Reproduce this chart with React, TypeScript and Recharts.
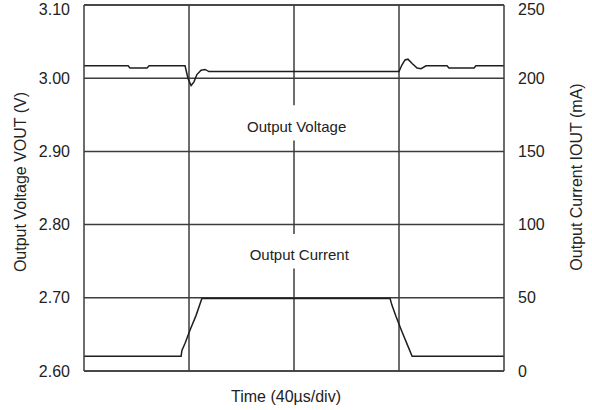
import React from "react";
import {
  LineChart,
  Line,
  XAxis,
  YAxis,
  CartesianGrid,
  ReferenceLine,
  ReferenceDot,
} from "recharts";

// Time in µs (40 µs/div)
const voltageTime = [0, 16.8, 17.5, 24, 24.8, 38.5, 39.6, 40.8, 41.9, 43.0, 44.6, 46.1, 47.6, 120, 121.1, 122.3, 123.4, 125, 126.9, 128.4, 130.3, 138.3, 139, 148.6, 149.3, 160];
const voltageValues = [3.017, 3.017, 3.014, 3.014, 3.017, 3.017, 3.0, 2.99, 2.995, 3.005, 3.011, 3.012, 3.009, 3.009, 3.018, 3.025, 3.026, 3.02, 3.014, 3.013, 3.017, 3.017, 3.014, 3.014, 3.017, 3.017];

const currentTime = [0, 37.0, 37.3, 38.5, 40.4, 42.7, 44.9, 116.6, 117.3, 118.9, 121.1, 123.4, 125, 160];
const currentValues = [10, 10, 14, 19, 28, 38, 49.5, 49.5, 45, 37, 27, 17, 10, 10];

const timeTicks = [0, 40, 80, 120, 160];
const voltageTicks = [2.6, 2.7, 2.8, 2.9, 3.0, 3.1];
const currentTicks = [0, 50, 100, 150, 200, 250];

const voltageData = voltageTime.map((t, i) => ({ t, v: voltageValues[i] }));
const currentData = currentTime.map((t, i) => ({ t, c: currentValues[i] }));

const FONT = "'Liberation Sans', Arial, sans-serif";
const GRID = "#3c3c3c";
const INK = "#1e1e1e";
const TXT = "#222";

export default function App() {
  return (
    <div style={{ position: "absolute", left: 0, top: 0, background: "#fff" }}>
      <LineChart
        width={592}
        height={410}
        margin={{ top: 5, right: 0, bottom: 0, left: 0 }}
        style={{ fontFamily: FONT }}
      >
        <CartesianGrid
          yAxisId="v"
          stroke={GRID}
          strokeWidth={1.5}
          vertical={false}
        />
        <XAxis
          type="number"
          dataKey="t"
          domain={[0, 160]}
          ticks={timeTicks}
          tick={false}
          tickLine={false}
          axisLine={{ stroke: GRID, strokeWidth: 1.5 }}
          height={39}
          allowDataOverflow
          label={{ value: "Time (40µs/div)", position: "insideBottom", offset: 8, fill: TXT, fontSize: 16, fontFamily: FONT, dx: -8 }}
        />
        <YAxis
          yAxisId="v"
          type="number"
          domain={[2.6, 3.1]}
          ticks={voltageTicks}
          tickFormatter={(v: number) => v.toFixed(2)}
          width={84}
          tickSize={0}
          tickMargin={14}
          axisLine={{ stroke: GRID, strokeWidth: 1.5 }}
          tick={{ fill: TXT, fontSize: 16, fontFamily: FONT }}
          allowDataOverflow
          label={{ value: "Output Voltage VOUT (V)", angle: -90, position: "insideLeft", offset: 20, fill: TXT, fontSize: 16, fontFamily: FONT, style: { textAnchor: "middle" }, dy: -6 }}
        />
        <YAxis
          yAxisId="i"
          orientation="right"
          type="number"
          domain={[0, 250]}
          ticks={currentTicks}
          width={88}
          tickSize={0}
          tickMargin={14}
          axisLine={{ stroke: GRID, strokeWidth: 1.5 }}
          tick={{ fill: TXT, fontSize: 16, fontFamily: FONT, textAnchor: "start" }}
          allowDataOverflow
          label={{ value: "Output Current IOUT (mA)", angle: -90, position: "insideRight", offset: 16, fill: TXT, fontSize: 16, fontFamily: FONT, style: { textAnchor: "middle" }, dy: -11 }}
        />
        <ReferenceLine yAxisId="v" y={3.1} stroke={GRID} strokeWidth={1.5} />
        <ReferenceLine yAxisId="v" x={40} stroke={GRID} strokeWidth={1.5} />
        <ReferenceLine yAxisId="v" x={120} stroke={GRID} strokeWidth={1.5} />
        <ReferenceLine yAxisId="v" segment={[{ x: 80, y: 3.1 }, { x: 80, y: 2.963 }]} stroke={GRID} strokeWidth={1.5} />
        <ReferenceLine yAxisId="v" segment={[{ x: 80, y: 2.915 }, { x: 80, y: 2.787 }]} stroke={GRID} strokeWidth={1.5} />
        <ReferenceLine yAxisId="v" segment={[{ x: 80, y: 2.74 }, { x: 80, y: 2.6 }]} stroke={GRID} strokeWidth={1.5} />
        <ReferenceDot
          yAxisId="v"
          x={81}
          y={2.9333}
          r={0}
          fill="none"
          stroke="none"
          label={{ value: "Output Voltage", position: "center", fill: TXT, fontSize: 15, fontFamily: FONT }}
        />
        <ReferenceDot
          yAxisId="v"
          x={82}
          y={2.7585}
          r={0}
          fill="none"
          stroke="none"
          label={{ value: "Output Current", position: "center", fill: TXT, fontSize: 15, fontFamily: FONT }}
        />
        <Line
          yAxisId="v"
          data={voltageData}
          dataKey="v"
          type="linear"
          stroke={INK}
          strokeWidth={1.5}
          dot={false}
          isAnimationActive={false}
        />
        <Line
          yAxisId="i"
          data={currentData}
          dataKey="c"
          type="linear"
          stroke={INK}
          strokeWidth={1.5}
          dot={false}
          isAnimationActive={false}
        />
      </LineChart>
    </div>
  );
}
